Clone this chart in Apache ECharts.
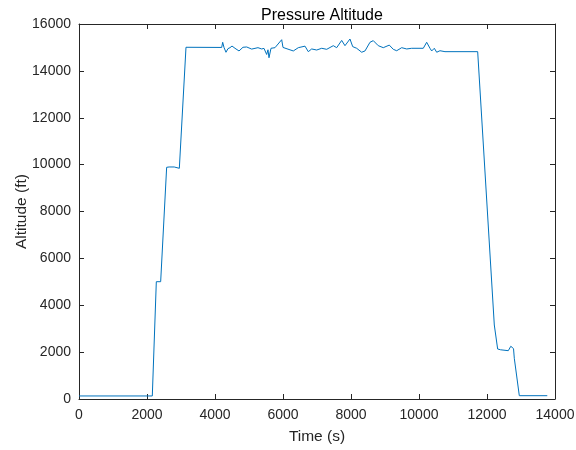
<!DOCTYPE html>
<html>
<head>
<meta charset="utf-8">
<script src="https://cdn.jsdelivr.net/npm/echarts@6/dist/echarts.min.js"></script>
<style>
html,body{margin:0;padding:0;background:#fff;}
#chart{width:576px;height:450px;}
</style>
</head>
<body>
<div id="chart"></div>
<script>
var titleText = 'Pressure Altitude';
var xLabel = 'Time (s)';
var yLabel = 'Altitude (ft)';

var timeSec = [
  0, 2156, 2274, 2402, 2578, 2650, 2700, 2800, 2951, 3147,
  3167, 4197, 4226, 4265, 4323, 4382, 4441, 4500, 4588, 4706,
  4823, 4932, 5079, 5264, 5373, 5441, 5520, 5558, 5588, 5647,
  5764, 5961, 6000, 6058, 6303, 6450, 6647, 6744, 6844, 6991,
  7138, 7285, 7479, 7579, 7726, 7823, 7970, 8050, 8167, 8314,
  8411, 8558, 8655, 8802, 8949, 9126, 9244, 9344, 9491, 9638,
  9785, 10126, 10226, 10323, 10373, 10450, 10520, 10617, 10764, 11726,
  11773, 12215, 12255, 12313, 12400, 12626, 12700, 12744, 12780, 12803,
  12950, 13773
];
var altitudeFt = [
  130, 130, 5005, 5005, 9886, 9900, 9950, 9900, 9843, 15007,
  15007, 15000, 15220, 15000, 14794, 14950, 14990, 15060, 14964, 14850,
  15007, 15020, 14930, 14990, 14935, 14960, 14700, 14900, 14560, 14964,
  14990, 15330, 15000, 14990, 14850, 14990, 15055, 14820, 14935, 14890,
  14964, 14920, 15075, 14990, 15300, 15075, 15360, 15035, 14964, 14795,
  14850, 15220, 15290, 15075, 14990, 15100, 14920, 14860, 14990, 14935,
  14964, 14964, 15220, 14964, 14850, 14964, 14795, 14860, 14820, 14820,
  14800, 3157, 3150, 2133, 2100, 2062, 2250, 2317, 2150, 1737,
  141, 141
];
var xTicks = [0, 2000, 4000, 6000, 8000, 10000, 12000, 14000];
var yTicks = [0, 2000, 4000, 6000, 8000, 10000, 12000, 14000, 16000];

var seriesData = timeSec.map(function (t, i) { return [t, altitudeFt[i]]; });

var FONT = '"Liberation Sans", Arial, Helvetica, sans-serif';
var AX = '#262626';
var plain = function (v) { return String(v); };

var chart = echarts.init(document.getElementById('chart'), null, {renderer: 'canvas'});
chart.setOption({
  animation: false,
  backgroundColor: '#ffffff',
  title: {
    text: titleText,
    left: 317, top: 3, textAlign: 'center',
    textStyle: {fontFamily: FONT, fontSize: 16, fontWeight: 'normal', color: '#000'}
  },
  grid: {left: 79, right: 21, top: 24, bottom: 51, containLabel: false, outerBoundsMode: 'none'},
  xAxis: [{
    type: 'value', position: 'bottom',
    min: xTicks[0], max: xTicks[xTicks.length - 1], interval: 2000,
    name: xLabel, nameLocation: 'middle', nameGap: 30, nameMoveOverlap: false,
    nameTextStyle: {fontFamily: FONT, fontSize: 15.5, color: AX},
    axisLine: {show: true, onZero: false, lineStyle: {color: AX, width: 1}},
    axisTick: {show: true, inside: true, length: 5, lineStyle: {color: AX}},
    axisLabel: {fontFamily: FONT, fontSize: 14, color: AX, margin: 9, formatter: plain},
    splitLine: {show: false}
  }, {
    type: 'value', position: 'top',
    min: xTicks[0], max: xTicks[xTicks.length - 1], interval: 2000,
    axisLine: {show: true, onZero: false, lineStyle: {color: AX, width: 1}},
    axisTick: {show: true, inside: true, length: 5, lineStyle: {color: AX}},
    axisLabel: {show: false},
    splitLine: {show: false}
  }],
  yAxis: [{
    type: 'value', position: 'left',
    min: yTicks[0], max: yTicks[yTicks.length - 1], interval: 2000,
    name: yLabel, nameLocation: 'middle', nameGap: 49, nameMoveOverlap: false,
    nameTextStyle: {fontFamily: FONT, fontSize: 15.5, color: AX},
    axisLine: {show: true, onZero: false, lineStyle: {color: AX, width: 1}},
    axisTick: {show: true, inside: true, length: 5, lineStyle: {color: AX}},
    axisLabel: {fontFamily: FONT, fontSize: 14, color: AX, margin: 8, formatter: plain},
    splitLine: {show: false}
  }, {
    type: 'value', position: 'right',
    min: yTicks[0], max: yTicks[yTicks.length - 1], interval: 2000,
    axisLine: {show: true, onZero: false, lineStyle: {color: AX, width: 1}},
    axisTick: {show: true, inside: true, length: 5, lineStyle: {color: AX}},
    axisLabel: {show: false},
    splitLine: {show: false}
  }],
  series: [{
    type: 'line',
    xAxisIndex: 0, yAxisIndex: 0,
    data: seriesData,
    showSymbol: false,
    symbol: 'none',
    lineStyle: {color: '#0072BD', width: 1},
    itemStyle: {color: '#0072BD'}
  }]
});
</script>
</body>
</html>
